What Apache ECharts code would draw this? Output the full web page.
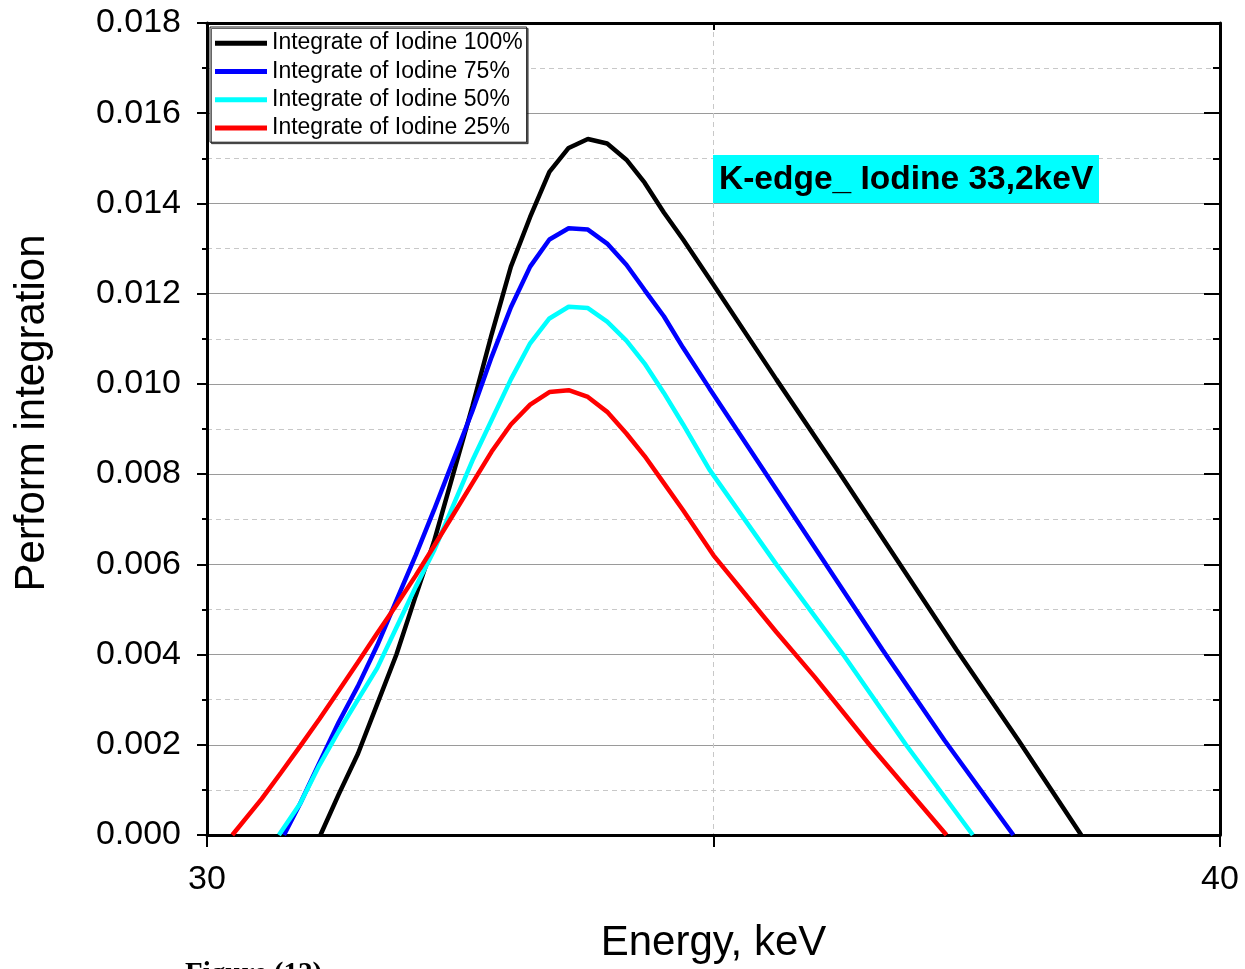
<!DOCTYPE html>
<html>
<head>
<meta charset="utf-8">
<script src="https://cdn.jsdelivr.net/npm/echarts@6/dist/echarts.min.js"></script>
<style>
html,body{margin:0;padding:0;background:#fff;}
#chart{width:1245px;height:969px;}
</style>
</head>
<body>
<div id="chart"></div>
<script>
// ---- data ----
const seriesNames = ['Integrate of Iodine 100%', 'Integrate of Iodine 75%', 'Integrate of Iodine 50%', 'Integrate of Iodine 25%'];
const seriesColors = ['#000000', '#0000ff', '#00ffff', '#ff0000'];

const energy100 = [31.12, 31.30, 31.49, 31.68, 31.87, 32.06, 32.24, 32.43, 32.62, 32.81, 33.00, 33.19, 33.38, 33.57, 33.76, 33.95, 34.14, 34.32, 34.51, 34.70, 35.00, 35.62, 36.25, 36.84, 37.40, 38.01, 38.63];
const value100  = [0, 0.0009, 0.0018, 0.0029, 0.0040, 0.0053, 0.0065, 0.0080, 0.0095, 0.0111, 0.0126, 0.0137, 0.0147, 0.01523, 0.01543, 0.01533, 0.01497, 0.01446, 0.0138, 0.0132, 0.0122, 0.0101, 0.0080, 0.0060, 0.0041, 0.0021, 0];

const energy75 = [30.76, 30.92, 31.11, 31.30, 31.49, 31.68, 31.87, 32.06, 32.24, 32.43, 32.62, 32.81, 33.00, 33.19, 33.38, 33.57, 33.76, 33.95, 34.14, 34.32, 34.51, 34.70, 34.96, 35.49, 36.05, 36.67, 37.28, 37.96];
const value75  = [0, 0.0007, 0.0016, 0.0025, 0.0033, 0.0042, 0.0052, 0.0062, 0.0072, 0.0083, 0.0094, 0.0106, 0.0117, 0.0126, 0.0132, 0.01345, 0.01342, 0.01311, 0.01264, 0.01208, 0.0115, 0.0108, 0.0099, 0.0081, 0.0062, 0.0041, 0.0021, 0];

const energy50 = [30.71, 30.92, 31.11, 31.30, 31.49, 31.68, 31.87, 32.06, 32.24, 32.43, 32.62, 32.81, 33.00, 33.19, 33.38, 33.57, 33.76, 33.95, 34.14, 34.32, 34.51, 34.70, 34.96, 35.62, 36.28, 36.90, 37.56];
const value50  = [0, 0.0007, 0.00155, 0.0023, 0.0030, 0.0037, 0.0046, 0.0055, 0.0063, 0.0073, 0.0083, 0.0092, 0.0101, 0.0109, 0.01145, 0.01171, 0.01168, 0.01138, 0.01096, 0.01045, 0.0098, 0.0091, 0.0081, 0.0060, 0.0040, 0.0020, 0];

const energy25 = [30.25, 30.54, 30.73, 30.92, 31.11, 31.30, 31.49, 31.68, 31.87, 32.06, 32.24, 32.43, 32.62, 32.81, 33.00, 33.19, 33.38, 33.57, 33.76, 33.95, 34.14, 34.32, 34.51, 34.70, 35.00, 35.62, 36.00, 36.54, 37.30];
const value25  = [0, 0.0008, 0.00138, 0.00197, 0.00257, 0.0032, 0.00383, 0.00447, 0.0051, 0.00575, 0.0064, 0.0071, 0.0078, 0.0085, 0.0091, 0.00954, 0.00982, 0.00986, 0.00971, 0.00938, 0.00890, 0.0084, 0.0078, 0.0072, 0.0062, 0.0045, 0.0035, 0.0020, 0];

const yTickLabels = ['0.000','0.002','0.004','0.006','0.008','0.010','0.012','0.014','0.016','0.018'];
const annotationText = 'K-edge_ Iodine 33,2keV';
const xAxisTitle = 'Energy, keV';
const yAxisTitle = 'Perform integration';
const figureCaption = 'Figure (12)';

// ---- chart ----
const FONT = '"Liberation Sans", Arial, sans-serif';
const energies = [energy100, energy75, energy50, energy25];
const values = [value100, value75, value50, value25];

const chart = echarts.init(document.getElementById('chart'), null, {renderer: 'canvas'});

const series = seriesNames.map((name, k) => ({
  name: name,
  type: 'line',
  xAxisIndex: 0,
  yAxisIndex: 0,
  data: energies[k].map((e, i) => [e, values[k][i]]),
  symbol: 'none',
  smooth: false,
  lineStyle: {color: seriesColors[k], width: 4.5},
  itemStyle: {color: seriesColors[k]},
  z: 3 + k
}));

const option = {
  animation: false,
  backgroundColor: '#ffffff',
  grid: {left: 207, right: 25, top: 23, bottom: 131, containLabel: false},
  legend: {
    show: true,
    orient: 'vertical',
    left: 210,
    top: 27,
    data: seriesNames,
    icon: 'rect',
    itemWidth: 52,
    itemHeight: 5,
    itemGap: 0,
    padding: [2, 4, 0, 5],
    backgroundColor: '#ffffff',
    borderColor: '#222',
    borderWidth: 1,
    shadowColor: 'rgba(0,0,0,0.6)',
    shadowOffsetX: 1.5,
    shadowOffsetY: 1.5,
    shadowBlur: 0,
    textStyle: {fontFamily: FONT, fontSize: 23, color: '#000', lineHeight: 28.3, height: 28.3},
    selectedMode: false
  },
  xAxis: [{
    type: 'value',
    position: 'bottom',
    min: 30, max: 40, interval: 10,
    name: xAxisTitle,
    nameLocation: 'middle',
    nameGap: 87,
    nameTextStyle: {fontFamily: FONT, fontSize: 42, color: '#000'},
    axisLine: {show: true, onZero: false, lineStyle: {color: '#000', width: 3}},
    axisTick: {show: true, inside: false, length: 12, lineStyle: {color: '#000', width: 2}},
    minorTick: {show: true, splitNumber: 2, length: 12, lineStyle: {color: '#000', width: 2}},
    axisLabel: {show: true, margin: 28, fontFamily: FONT, fontSize: 34, color: '#000'},
    splitLine: {show: false},
    minorSplitLine: {show: true, lineStyle: {color: '#c8c8c8', width: 1, type: [5, 4]}}
  }, {
    type: 'value',
    position: 'top',
    min: 30, max: 40, interval: 10,
    axisLine: {show: true, onZero: false, lineStyle: {color: '#000', width: 3}},
    axisTick: {show: true, inside: true, length: 14, lineStyle: {color: '#000', width: 2}},
    minorTick: {show: true, splitNumber: 2, length: 7, lineStyle: {color: '#000', width: 2}},
    axisLabel: {show: false},
    splitLine: {show: false}
  }],
  yAxis: [{
    type: 'value',
    position: 'left',
    min: 0, max: 0.018, interval: 0.002,
    axisLine: {show: true, onZero: false, lineStyle: {color: '#000', width: 3}},
    axisTick: {show: true, inside: false, length: 10, lineStyle: {color: '#000', width: 2}},
    minorTick: {show: true, splitNumber: 2, length: 5, lineStyle: {color: '#000', width: 2}},
    axisLabel: {
      show: true, margin: 26, fontFamily: FONT, fontSize: 34, color: '#000',
      formatter: function (v) { return yTickLabels[Math.round(v / 0.002)]; }
    },
    splitLine: {show: true, lineStyle: {color: '#9a9a9a', width: 1}},
    minorSplitLine: {show: true, lineStyle: {color: '#c8c8c8', width: 1, type: [5, 4]}}
  }, {
    type: 'value',
    position: 'right',
    min: 0, max: 0.018, interval: 0.002,
    axisLine: {show: true, onZero: false, lineStyle: {color: '#000', width: 3}},
    axisTick: {show: true, inside: true, length: 16, lineStyle: {color: '#000', width: 2}},
    minorTick: {show: true, splitNumber: 2, length: 7, lineStyle: {color: '#000', width: 2}},
    axisLabel: {show: false},
    splitLine: {show: false}
  }],
  graphic: [{
    type: 'text',
    x: 32, y: 413,
    rotation: Math.PI / 2,
    style: {text: yAxisTitle, font: '42px "Liberation Sans", Arial, sans-serif', fill: '#000', verticalAlign: 'middle', align: 'center'},
    z: 11
  }, {
    type: 'rect',
    shape: {x: 713, y: 155, width: 386, height: 48},
    style: {fill: '#00ffff'},
    z: 10
  }, {
    type: 'text',
    x: 719, y: 180,
    style: {text: annotationText, font: 'bold 33.5px "Liberation Sans", Arial, sans-serif', fill: '#000', verticalAlign: 'middle', align: 'left'},
    z: 11
  }, {
    type: 'text',
    x: 185, y: 975,
    style: {text: figureCaption, font: 'bold 29px "Liberation Serif", "Times New Roman", serif', fill: '#000', verticalAlign: 'middle', align: 'left'},
    z: 11
  }],
  series: series
};

chart.setOption(option);
</script>
</body>
</html>
